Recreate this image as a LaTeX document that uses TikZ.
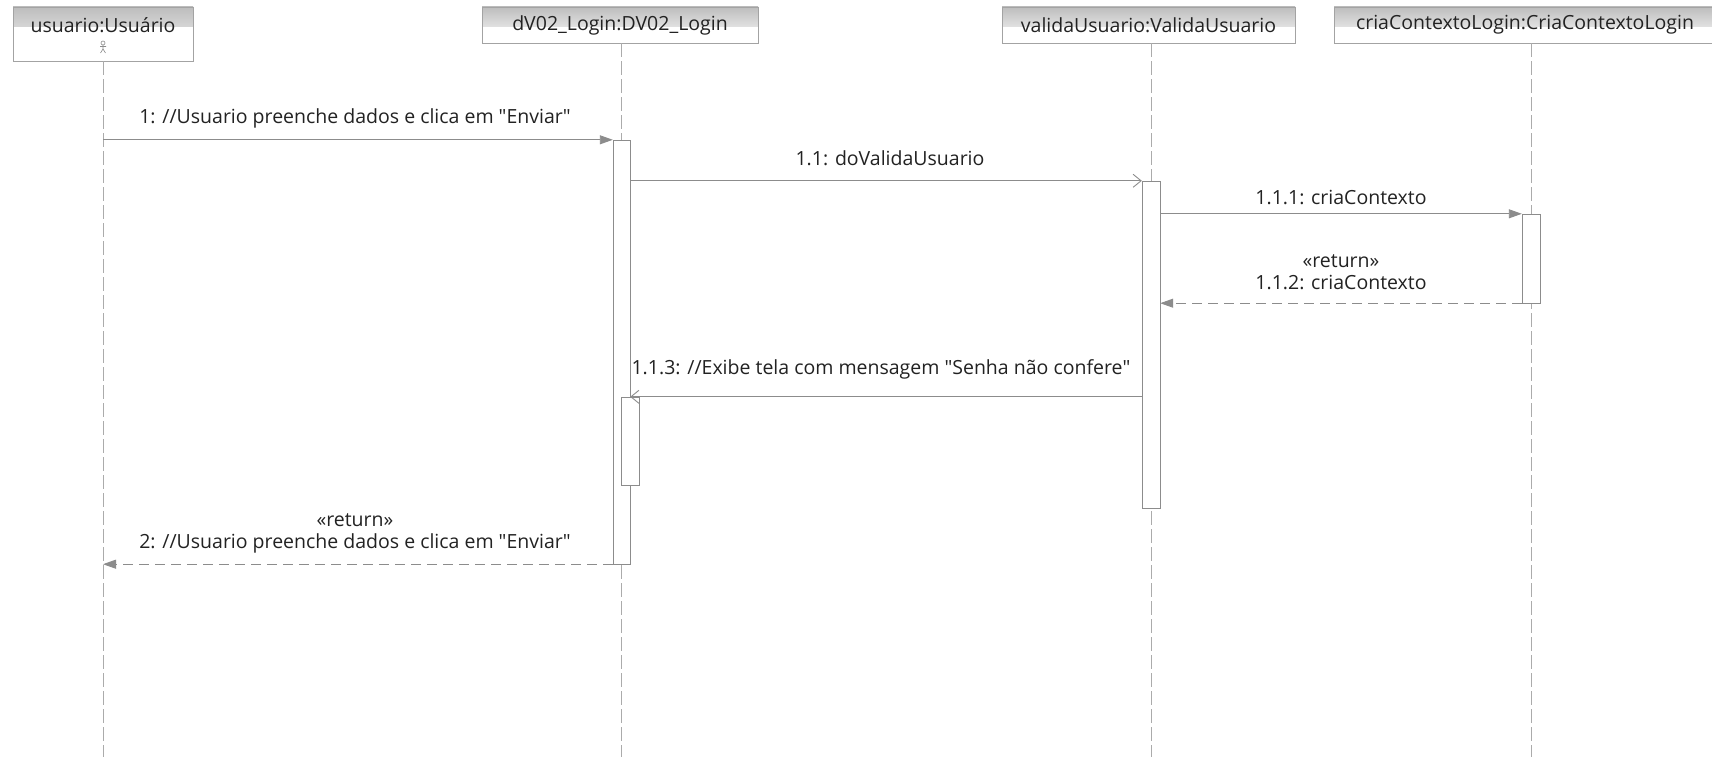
\documentclass[tikz,border=0pt]{standalone}
\usepackage{fontspec}
\setmainfont{Open Sans}
\usetikzlibrary{arrows.meta}
\definecolor{linegray}{HTML}{8C8C8C}
\definecolor{lifegray}{HTML}{ABABAB}
\definecolor{boxgray}{HTML}{A3A3A3}
\definecolor{headgray}{HTML}{BDBDBD}
\definecolor{txt}{HTML}{222222}
\newcommand{\qq}{\textquotedbl}
\begin{document}
\begin{tikzpicture}[x=1pt,y=-1pt,
  font=\fontsize{19.5}{22}\selectfont,
  objbox/.style={draw=boxgray, line width=0.8pt, fill=white, inner sep=0pt, text=txt,
    path picture={\shade[top color=headgray, bottom color=white]
      (path picture bounding box.north west) rectangle ([yshift=-20pt]path picture bounding box.north east);}},
  objtext/.style={inner sep=0pt, text=txt},
  act/.style={draw=linegray, line width=0.8pt, fill=white, inner sep=0pt},
  life/.style={draw=lifegray, line width=0.8pt, dash pattern=on 14pt off 4pt},
  callmsg/.style={draw=linegray, line width=0.9pt, -{Triangle[length=13pt,width=9pt]}},
  asyncmsg/.style={draw=linegray, line width=0.9pt, -{Straight Barb[length=8pt,width=13pt]}},
  retmsg/.style={draw=linegray, line width=0.9pt, dash pattern=on 10pt off 6pt, -{Triangle[length=13pt,width=9pt]}},
  lbl/.style={inner sep=0pt, text=txt, align=center},
  icon/.style={draw=linegray, line width=0.6pt}
]
\clip (0,0) rectangle (1712,759);
\useasboundingbox (0,0) rectangle (1712,759);
\fill[white] (0,0) rectangle (1712,759);
\coordinate (bot) at (0,757);

% objects
\node[objbox, minimum width=180pt, minimum height=54pt] (u) at (103,34) {};
\node[objtext] (ut) at (103,25) {usuario:Usuário};
\node[objbox, minimum width=276pt, minimum height=36pt] (d) at (620,25) {dV02\_Login:DV02\_Login};
\node[objbox, minimum width=293pt, minimum height=36pt] (v) at (1148.5,25) {validaUsuario:ValidaUsuario};
\node[objbox, minimum width=382pt, minimum height=36pt] (c) at (1525,25) {criaContextoLogin:CriaContextoLogin};

% actor icon
\draw[icon] (103,43) circle (2pt);
\draw[icon] (103,45) -- (103,49) (100,46.5) -- (106,46.5) (103,49) -- (100.5,53) (103,49) -- (105.5,53);

% activation bars (positions)
\path (621.5,352) node[inner sep=0pt, minimum width=17pt, minimum height=424pt] (a1) {};
\path (1151,344.5) node[inner sep=0pt, minimum width=18pt, minimum height=327pt] (b1) {};
\path (1531,258.5) node[inner sep=0pt, minimum width=18pt, minimum height=89pt] (c1) {};
\path (630,441) node[inner sep=0pt, minimum width=18pt, minimum height=88pt] (a2) {};

% lifelines
\draw[life] (u.south) -- (u |- bot);
\draw[life] (a1 |- d.south) -- (a1 |- bot);
\draw[life] (b1 |- v.south) -- (b1 |- bot);
\draw[life] (c1 |- c.south) -- (c1 |- bot);

% activation boxes drawn
\node[act, minimum width=17pt, minimum height=424pt] at (a1) {};
\node[act, minimum width=18pt, minimum height=327pt] at (b1) {};
\node[act, minimum width=18pt, minimum height=89pt] at (c1) {};
\node[act, minimum width=18pt, minimum height=88pt] at (a2) {};

% messages
\draw[callmsg] (u |- a1.north) -- (a1.north west);
\node[lbl] (l1) at (355,118) {1: //Usuario preenche dados e clica em \qq Enviar\qq};

\draw[asyncmsg] (a1.east |- b1.north) -- (b1.north west);
\node[lbl] (l11) at (890,158) {1.1: doValidaUsuario};

\draw[callmsg] (b1.east |- c1.north) -- (c1.north west);
\node[lbl] (l111) at (1341,197) {1.1.1: criaContexto};

\draw[retmsg] (c1.south west) -- (b1.east |- c1.south);
\node[lbl] (l112) at (1341,272) {«return»\\1.1.2: criaContexto};

\draw[asyncmsg] (b1.west |- a2.north) -- (a1.east |- a2.north);
\node[lbl] (l113) at (881,369) {1.1.3: //Exibe tela com mensagem \qq Senha não confere\qq};

\draw[retmsg] (a1.south west) -- (u |- a1.south);
\node[lbl] (l2) at (355,533) {«return»\\2: //Usuario preenche dados e clica em \qq Enviar\qq};
\end{tikzpicture}
\end{document}
